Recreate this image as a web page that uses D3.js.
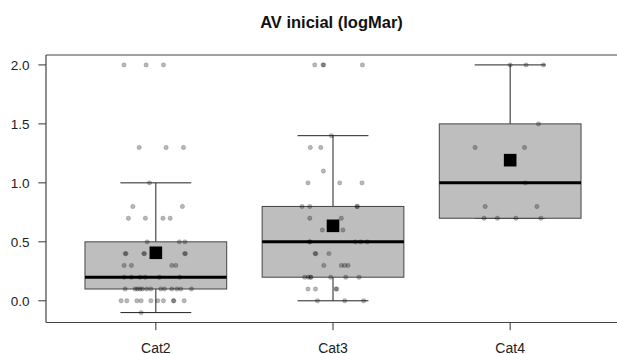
<!DOCTYPE html>
<html>
<head>
<meta charset="utf-8">
<script src="https://cdn.jsdelivr.net/npm/d3@7"></script>
<style>
  html, body { margin: 0; padding: 0; background: #fff; }
  svg { display: block; font-family: "Liberation Sans", Arial, sans-serif; }
</style>
</head>
<body>
<div id="chart"></div>
<script>
// Categories and tick labels
const categories = ['Cat2', 'Cat3', 'Cat4'];
const yTicks = [0, 0.5, 1, 1.5, 2];

// Jittered points per category: [x (category units), value]
const cat2Points = [
  [0.82, 2.0], [0.945, 2.0], [1.043, 2.0],
  [0.906, 1.3], [1.058, 1.3], [1.156, 1.3],
  [0.964, 1.0],
  [0.870, 0.8], [1.150, 0.8],
  [0.845, 0.7], [0.941, 0.7], [1.040, 0.7], [1.081, 0.7],
  [0.951, 0.5], [1.133, 0.5], [1.164, 0.5],
  [0.827, 0.4], [0.832, 0.4], [0.932, 0.4], [0.936, 0.4], [1.163, 0.4], [1.167, 0.4],
  [0.821, 0.3], [0.862, 0.3], [1.090, 0.3], [1.113, 0.3],
  [0.821, 0.2], [0.862, 0.2], [0.911, 0.2], [0.940, 0.2], [1.020, 0.2], [1.135, 0.2],
  [0.827, 0.1], [0.883, 0.1], [0.896, 0.1], [0.911, 0.1], [0.924, 0.1], [0.949, 0.1],
  [0.972, 0.1], [1.028, 0.1], [1.049, 0.1], [1.090, 0.1], [1.119, 0.1], [1.141, 0.1], [1.201, 0.1],
  [0.804, 0.0], [0.836, 0.0], [0.893, 0.0], [0.917, 0.0], [0.972, 0.0], [1.011, 0.0],
  [1.043, 0.0], [1.099, 0.0], [1.102, 0.0], [1.160, 0.0],
  [0.917, -0.1]
];

const cat3Points = [
  [1.897, 2.0], [1.944, 2.0], [1.947, 2.0], [2.166, 2.0],
  [1.991, 1.4],
  [1.872, 1.3], [1.931, 1.3],
  [1.946, 1.1],
  [1.859, 1.0], [2.038, 1.0], [2.164, 1.0],
  [1.825, 0.8], [1.869, 0.8], [2.135, 0.8], [2.138, 0.8],
  [1.869, 0.7], [2.047, 0.7],
  [1.940, 0.6], [2.056, 0.6],
  [1.867, 0.5], [1.871, 0.5], [2.126, 0.5], [2.156, 0.5], [2.194, 0.5],
  [1.899, 0.4], [1.903, 0.4], [1.977, 0.4],
  [1.948, 0.3], [2.047, 0.3], [2.066, 0.3], [2.085, 0.3],
  [1.840, 0.2], [1.859, 0.2], [1.872, 0.2], [1.876, 0.2], [1.987, 0.2], [2.072, 0.2], [2.147, 0.2],
  [1.859, 0.1], [1.901, 0.1], [2.017, 0.1], [2.021, 0.1],
  [1.912, 0.0], [2.066, 0.0], [2.173, 0.0]
];

const cat4Points = [
  [3.000, 2.0], [3.090, 2.0], [3.188, 2.0],
  [3.160, 1.5],
  [2.802, 1.3], [3.081, 1.3],
  [3.086, 1.0],
  [2.859, 0.8], [3.151, 0.8],
  [2.853, 0.7], [2.928, 0.7], [3.032, 0.7], [3.173, 0.7]
];

const groups = [cat2Points, cat3Points, cat4Points];

// Tukey hinges, like R's fivenum
function fivenum(values) {
  const s = values.slice().sort(d3.ascending);
  const n = s.length;
  const n4 = Math.floor((n + 3) / 2) / 2;
  const idx = [1, n4, (n + 1) / 2, n + 1 - n4, n];
  return idx.map(i => 0.5 * (s[Math.floor(i) - 1] + s[Math.ceil(i) - 1]));
}

function boxStats(points) {
  const v = points.map(p => p[1]);
  const f = fivenum(v);
  const iqr = f[3] - f[1];
  return {
    q1: f[1], median: f[2], q3: f[3],
    lo: d3.min(v.filter(x => x >= f[1] - 1.5 * iqr)),
    hi: d3.max(v.filter(x => x <= f[3] + 1.5 * iqr)),
    mean: d3.mean(v)
  };
}

const width = 617, height = 354;
const margin = { top: 55, right: -3, bottom: 31.5, left: 46 };

const svg = d3.select('#chart')
  .append('svg')
  .attr('width', width)
  .attr('height', height);

const x = d3.scaleLinear()
  .domain([0.38, 3.62])
  .range([margin.left, width - margin.right]);

const y = d3.scaleLinear()
  .domain([-0.184, 2.084])
  .range([height - margin.bottom, margin.top]);

const step = x(2) - x(1);

// Boxes
groups.forEach((pts, i) => {
  const st = boxStats(pts);
  const cx = x(i + 1);
  const bw = step * 0.8;
  const cw = step * 0.4;
  const g = svg.append('g').attr('class', 'box');

  g.append('line')
    .attr('x1', cx).attr('x2', cx)
    .attr('y1', y(st.hi)).attr('y2', y(st.q3))
    .attr('stroke', '#222').attr('stroke-width', 1);
  g.append('line')
    .attr('x1', cx).attr('x2', cx)
    .attr('y1', y(st.q1)).attr('y2', y(st.lo))
    .attr('stroke', '#222').attr('stroke-width', 1);
  g.append('line')
    .attr('x1', cx - cw / 2).attr('x2', cx + cw / 2)
    .attr('y1', y(st.hi)).attr('y2', y(st.hi))
    .attr('stroke', '#222').attr('stroke-width', 1);
  g.append('line')
    .attr('x1', cx - cw / 2).attr('x2', cx + cw / 2)
    .attr('y1', y(st.lo)).attr('y2', y(st.lo))
    .attr('stroke', '#222').attr('stroke-width', 1);

  g.append('rect')
    .attr('x', cx - bw / 2)
    .attr('y', y(st.q3))
    .attr('width', bw)
    .attr('height', y(st.q1) - y(st.q3))
    .attr('fill', '#bebebe')
    .attr('stroke', '#444')
    .attr('stroke-width', 1);

  g.append('line')
    .attr('x1', cx - bw / 2).attr('x2', cx + bw / 2)
    .attr('y1', y(st.median)).attr('y2', y(st.median))
    .attr('stroke', '#000').attr('stroke-width', 3);
});

// Jittered points
svg.append('g')
  .selectAll('circle')
  .data(groups.flat())
  .enter()
  .append('circle')
  .attr('cx', d => x(d[0]))
  .attr('cy', d => y(d[1]))
  .attr('r', 2.2)
  .attr('fill', 'rgba(0,0,0,0.28)')
  .attr('stroke', 'rgba(0,0,0,0.18)')
  .attr('stroke-width', 0.8);

// Mean squares
groups.forEach((pts, i) => {
  const m = boxStats(pts).mean;
  svg.append('rect')
    .attr('x', x(i + 1) - 6.3)
    .attr('y', y(m) - 6.3)
    .attr('width', 12.6)
    .attr('height', 12.6)
    .attr('fill', '#000');
});

// Frame
const frame = svg.append('g').attr('stroke', '#444').attr('stroke-width', 1.2).attr('fill', 'none');
frame.append('line').attr('x1', x(0.38)).attr('x2', width + 5).attr('y1', y(2.084)).attr('y2', y(2.084));
frame.append('line').attr('x1', x(0.38)).attr('x2', width + 5).attr('y1', y(-0.184)).attr('y2', y(-0.184));
frame.append('line').attr('x1', x(0.38)).attr('x2', x(0.38)).attr('y1', y(2.084)).attr('y2', y(-0.184));

// Y axis ticks and labels
const yAxis = svg.append('g').attr('class', 'y-axis');
yAxis.selectAll('line')
  .data(yTicks)
  .enter()
  .append('line')
  .attr('x1', margin.left - 7.7).attr('x2', margin.left)
  .attr('y1', d => y(d)).attr('y2', d => y(d))
  .attr('stroke', '#333');
yAxis.selectAll('text')
  .data(yTicks)
  .enter()
  .append('text')
  .attr('x', 29.5)
  .attr('y', d => y(d) + 5)
  .attr('text-anchor', 'end')
  .style('font-size', '13.5px')
  .style('fill', '#222')
  .text(d => d3.format('.1f')(d));

// X axis ticks and labels
const xAxis = svg.append('g').attr('class', 'x-axis');
xAxis.selectAll('line')
  .data(categories)
  .enter()
  .append('line')
  .attr('x1', (d, i) => x(i + 1)).attr('x2', (d, i) => x(i + 1))
  .attr('y1', y(-0.184)).attr('y2', y(-0.184) + 7.7)
  .attr('stroke', '#333');
xAxis.selectAll('text')
  .data(categories)
  .enter()
  .append('text')
  .attr('x', (d, i) => x(i + 1))
  .attr('y', 352.5)
  .attr('text-anchor', 'middle')
  .style('font-size', '14px')
  .style('fill', '#222')
  .text(d => d);

// Title
svg.append('text')
  .attr('x', 331.5)
  .attr('y', 27.5)
  .attr('text-anchor', 'middle')
  .style('font-size', '16.5px')
  .style('font-weight', 'bold')
  .style('fill', '#111')
  .text('AV inicial (logMar)');
</script>
</body>
</html>
